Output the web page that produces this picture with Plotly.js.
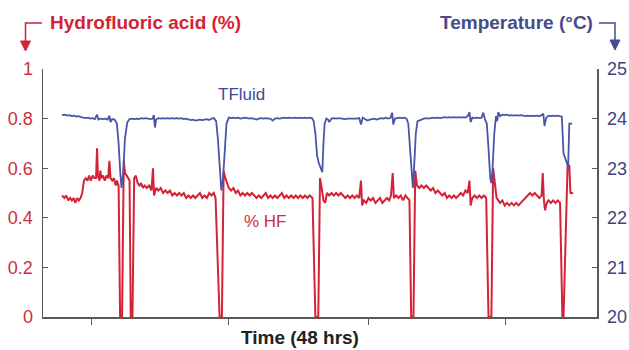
<!DOCTYPE html>
<html>
<head>
<meta charset="utf-8">
<script src="https://cdn.plot.ly/plotly-3.0.1.min.js"></script>
<style>
html,body{margin:0;padding:0;background:#fff;}
#chart{width:629px;height:350px;}
</style>
</head>
<body>
<div id="chart"></div>
<script>
// ---- data (time in hours, HF in %, temperature in °C) ----
const hfSamples = [
 [1.65,0.49],[1.85,0.48],[2.0,0.49],[2.2,0.47],[2.35,0.48],[2.5,0.47],[2.65,0.48],[2.8,0.46],[2.95,0.48],[3.1,0.47],
 [3.25,0.48],[3.4,0.50],[3.55,0.55],[3.7,0.56],[3.85,0.55],[4.0,0.57],[4.15,0.55],[4.3,0.57],[4.45,0.56],[4.6,0.56],
 [4.68,0.68],[4.76,0.57],[4.9,0.55],[4.97,0.59],[5.05,0.56],[5.2,0.57],[5.35,0.55],[5.5,0.57],[5.65,0.56],[5.75,0.63],
 [5.85,0.56],[6.0,0.55],[6.15,0.56],[6.3,0.53],[6.4,0.55],[6.55,0.53],[6.68,0.0],[6.85,0.0],[7.0,0.63],[7.1,0.58],
 [7.25,0.57],[7.4,0.56],[7.5,0.55],[7.6,0.0],[7.75,0.0],[7.9,0.56],[8.05,0.57],[8.2,0.54],[8.35,0.53],[8.5,0.54],
 [8.65,0.52],[8.8,0.53],[9.0,0.52],[9.2,0.53],[9.4,0.51],[9.53,0.60],[9.62,0.49],[9.8,0.52],[10.0,0.51],[10.2,0.52],
 [10.4,0.50],[10.6,0.51],[10.8,0.50],[11.0,0.51],[11.2,0.49],[11.4,0.50],[11.6,0.49],[11.8,0.50],[12.0,0.49],[12.2,0.50],
 [12.4,0.48],[12.6,0.49],[12.8,0.48],[13.0,0.49],[13.2,0.48],[13.4,0.49],[13.6,0.50],[13.8,0.48],[14.0,0.49],[14.2,0.48],
 [14.4,0.50],[14.6,0.49],[14.8,0.50],[14.95,0.48],[15.3,0.0],[15.5,0.0],[15.65,0.59],[15.8,0.56],[15.95,0.54],[16.1,0.52],
 [16.3,0.51],[16.5,0.52],[16.7,0.50],[16.9,0.51],[17.1,0.49],[17.3,0.50],[17.5,0.49],[17.7,0.50],[17.9,0.49],[18.1,0.50],
 [18.3,0.49],[18.5,0.48],[18.7,0.49],[18.9,0.48],[19.1,0.49],[19.3,0.50],[19.5,0.48],[19.7,0.49],[19.9,0.48],[20.1,0.49],
 [20.3,0.48],[20.5,0.49],[20.7,0.50],[20.9,0.48],[21.1,0.49],[21.3,0.48],[21.5,0.49],[21.7,0.48],[21.9,0.49],[22.1,0.48],
 [22.3,0.49],[22.5,0.48],[22.7,0.49],[22.9,0.48],[23.1,0.49],[23.35,0.48],[23.6,0.0],[23.85,0.0],[24.0,0.56],[24.15,0.52],
 [24.3,0.47],[24.45,0.46],[24.6,0.50],[24.8,0.49],[25.0,0.50],[25.2,0.49],[25.4,0.50],[25.6,0.49],[25.8,0.50],[26.0,0.49],
 [26.2,0.48],[26.4,0.49],[26.6,0.48],[26.8,0.49],[27.0,0.48],[27.2,0.49],[27.4,0.48],[27.55,0.55],[27.65,0.45],[27.8,0.47],
 [28.0,0.46],[28.2,0.48],[28.4,0.47],[28.6,0.48],[28.8,0.46],[29.0,0.47],[29.2,0.48],[29.4,0.46],[29.6,0.47],[29.8,0.48],
 [30.0,0.47],[30.15,0.49],[30.3,0.58],[30.4,0.48],[30.6,0.49],[30.8,0.48],[31.0,0.49],[31.2,0.47],[31.4,0.49],[31.6,0.48],
 [31.75,0.47],[31.9,0.0],[32.1,0.0],[32.25,0.59],[32.4,0.53],[32.6,0.52],[32.8,0.53],[33.0,0.52],[33.2,0.53],[33.4,0.52],
 [33.6,0.51],[33.8,0.52],[34.0,0.50],[34.2,0.51],[34.4,0.50],[34.6,0.49],[34.8,0.50],[35.0,0.48],[35.2,0.49],[35.4,0.48],
 [35.6,0.49],[35.8,0.48],[36.0,0.49],[36.2,0.50],[36.4,0.49],[36.6,0.51],[36.8,0.50],[36.95,0.55],[37.05,0.45],[37.2,0.48],
 [37.4,0.49],[37.6,0.48],[37.8,0.49],[38.0,0.48],[38.2,0.49],[38.4,0.48],[38.6,0.0],[38.85,0.0],[39.0,0.60],[39.15,0.53],
 [39.3,0.48],[39.45,0.47],[39.6,0.46],[39.8,0.47],[40.0,0.45],[40.2,0.46],[40.4,0.45],[40.6,0.46],[40.8,0.45],[41.0,0.46],
 [41.2,0.45],[41.4,0.46],[41.6,0.47],[41.8,0.48],[42.0,0.49],[42.2,0.50],[42.4,0.49],[42.6,0.50],[42.8,0.49],[43.0,0.48],
 [43.2,0.49],[43.3,0.58],[43.4,0.47],[43.5,0.43],[43.65,0.46],[43.8,0.47],[44.0,0.46],[44.2,0.47],[44.4,0.46],[44.6,0.47],
 [44.8,0.46],[45.0,0.0],[45.1,0.0],[45.45,0.61],[45.6,0.61],[45.7,0.50],[45.93,0.50]
];
const tempSamples = [
 [1.65,24.07],[1.9,24.08],[2.1,24.06],[2.3,24.07],[2.5,24.05],[2.7,24.06],[2.9,24.04],[3.1,24.05],[3.3,24.03],[3.5,24.02],
 [3.7,24.01],[3.9,24.02],[4.1,24.00],[4.3,24.01],[4.5,23.99],[4.68,24.08],[4.8,23.98],[5.0,24.00],[5.2,23.99],[5.4,24.00],
 [5.6,23.98],[5.75,24.06],[5.85,23.93],[6.0,23.99],[6.2,23.98],[6.4,23.90],[6.55,23.5],[6.7,22.9],[6.8,22.6],[6.95,22.9],
 [7.1,23.6],[7.3,23.92],[7.5,23.99],[7.7,24.0],[7.9,23.99],[8.1,24.0],[8.3,23.99],[8.5,24.01],[8.7,24.0],[8.9,24.01],
 [9.1,24.0],[9.3,23.99],[9.5,24.0],[9.6,24.07],[9.7,23.82],[9.8,23.98],[10.0,24.01],[10.2,24.0],[10.4,24.01],[10.6,24.0],
 [10.8,24.01],[11.0,24.0],[11.2,24.01],[11.4,24.0],[11.6,24.01],[11.8,24.0],[12.0,24.01],[12.2,23.99],[12.4,24.0],[12.6,23.99],
 [12.8,23.97],[13.0,23.98],[13.2,23.96],[13.4,23.97],[13.6,23.98],[13.8,23.97],[14.0,23.98],[14.2,23.99],[14.4,23.97],[14.6,24.0],
 [14.8,24.01],[15.0,23.95],[15.15,23.6],[15.3,23.0],[15.45,22.55],[15.6,22.8],[15.75,23.5],[15.9,23.9],[16.1,24.02],[16.3,24.01],
 [16.5,24.02],[16.7,24.01],[16.9,24.02],[17.1,24.0],[17.3,24.01],[17.5,24.02],[17.7,24.01],[17.9,24.0],[18.1,24.01],[18.3,24.0],
 [18.5,23.98],[18.7,24.0],[18.9,24.01],[19.1,24.0],[19.3,24.01],[19.5,24.0],[19.7,24.0],[19.9,23.96],[20.1,24.0],[20.3,24.01],
 [20.5,24.0],[20.7,24.01],[20.9,24.02],[21.1,24.01],[21.3,24.02],[21.5,24.01],[21.7,24.02],[21.9,24.02],[22.1,24.01],[22.3,24.02],
 [22.5,24.01],[22.7,24.02],[22.9,24.01],[23.1,24.02],[23.3,24.01],[23.45,23.95],[23.6,23.7],[23.75,23.25],[23.9,23.1],[24.05,23.0],
 [24.2,22.92],[24.3,23.5],[24.4,23.9],[24.55,24.0],[24.7,23.98],[24.8,23.93],[25.0,24.0],[25.2,24.01],[25.4,24.0],[25.6,24.01],
 [25.8,24.0],[26.0,24.0],[26.2,23.99],[26.4,24.0],[26.6,24.0],[26.8,23.99],[27.0,24.0],[27.2,24.0],[27.4,24.01],[27.55,23.88],
 [27.7,24.02],[27.9,23.99],[28.1,23.96],[28.3,23.98],[28.5,23.99],[28.7,24.0],[28.9,23.98],[29.1,24.0],[29.3,24.01],[29.5,24.0],
 [29.7,24.02],[29.9,24.0],[30.1,24.01],[30.25,24.12],[30.35,23.88],[30.5,24.0],[30.7,24.01],[30.9,24.02],[31.1,24.01],[31.3,24.02],
 [31.5,24.0],[31.65,23.9],[31.8,23.4],[31.95,22.8],[32.05,22.6],[32.15,23.0],[32.3,23.7],[32.45,23.95],[32.6,23.97],[32.8,23.98],
 [33.0,24.0],[33.2,24.01],[33.4,24.0],[33.6,24.01],[33.8,24.02],[34.0,24.01],[34.2,24.02],[34.4,24.01],[34.6,24.02],[34.8,24.03],
 [35.0,24.02],[35.2,24.03],[35.4,24.02],[35.6,24.03],[35.8,24.02],[36.0,24.03],[36.2,24.02],[36.4,24.03],[36.6,24.02],[36.8,24.05],
 [36.95,24.13],[37.05,23.93],[37.2,24.02],[37.4,24.01],[37.6,24.02],[37.8,24.01],[38.0,24.02],[38.15,24.12],[38.3,23.98],[38.45,23.9],
 [38.6,23.4],[38.75,22.8],[38.85,22.7],[38.95,23.0],[39.1,23.7],[39.25,24.05],[39.35,23.95],[39.45,24.13],[39.6,24.05],[39.8,24.08],
 [40.0,24.07],[40.2,24.08],[40.4,24.06],[40.6,24.07],[40.8,24.06],[41.0,24.07],[41.2,24.06],[41.4,24.07],[41.6,24.06],[41.8,24.05],
 [42.0,24.06],[42.2,24.05],[42.4,24.06],[42.6,24.05],[42.8,24.06],[43.0,24.05],[43.2,24.07],[43.35,24.1],[43.45,23.85],[43.6,24.02],
 [43.8,24.06],[44.0,24.05],[44.2,24.06],[44.4,24.05],[44.6,24.06],[44.8,24.05],[44.95,24.04],[45.1,23.3],[45.35,23.1],[45.5,23.03],
 [45.6,23.9],[45.85,23.9]
];
const hfTicks = [0, 0.2, 0.4, 0.6, 0.8, 1];
const tempTicks = [20, 21, 22, 23, 24, 25];
const timeTicks = [4.2, 16.1, 28.2, 40.1];

const hfTime = hfSamples.map(p => p[0]);
const hfValue = hfSamples.map(p => p[1]);
const tempTime = tempSamples.map(p => p[0]);
const tempValue = tempSamples.map(p => p[1]);

const RED = '#d42236';
const BLUE = '#4a55a6';
const NAVY = '#464b8a';
const AXIS = '#5a5a5a';
const boldFont = '"Liberation Sans", Arial, sans-serif';
const regular = '"Liberation Sans", Arial, sans-serif';

const traces = [
  {x: hfTime, y: hfValue, type: 'scatter', mode: 'lines', yaxis: 'y',
   line: {color: RED, width: 2}, hoverinfo: 'skip'},
  {x: tempTime, y: tempValue, type: 'scatter', mode: 'lines', yaxis: 'y2',
   line: {color: BLUE, width: 1.8}, hoverinfo: 'skip'}
];

// pixel -> paper helpers for decorative arrows outside plot area
const L = 43, R = 597, T = 69, B = 317;
const px = v => (v - L) / (R - L);
const py = v => (B - v) / (B - T);

const layout = {
  width: 629, height: 350,
  margin: {l: L, r: 629 - R, t: T, b: 350 - B, pad: 0},
  paper_bgcolor: '#fff', plot_bgcolor: '#fff',
  showlegend: false,
  xaxis: {
    range: [0, 48], showgrid: false, zeroline: false,
    showline: true, linecolor: AXIS, linewidth: 1.5,
    ticks: 'outside', ticklen: 6, tickwidth: 1.3, tickcolor: AXIS,
    tickvals: timeTicks, showticklabels: false
  },
  yaxis: {
    range: [0, 1], showgrid: false, zeroline: false,
    showline: true, linecolor: AXIS, linewidth: 1.5,
    ticks: 'inside', ticklen: 5, tickwidth: 1.3, tickcolor: AXIS,
    tickvals: hfTicks, ticktext: hfTicks.map(String),
    tickfont: {family: regular, size: 18, color: '#c8303e'},
    ticklabelstandoff: 5
  },
  yaxis2: {
    range: [20, 25], overlaying: 'y', side: 'right', showgrid: false, zeroline: false,
    showline: true, linecolor: AXIS, linewidth: 1.5,
    ticks: 'inside', ticklen: 5, tickwidth: 1.3, tickcolor: AXIS,
    tickvals: tempTicks, ticktext: tempTicks.map(String),
    tickfont: {family: regular, size: 18, color: '#40447e'},
    ticklabelstandoff: 5
  },
  annotations: [
    {xref: 'paper', yref: 'paper', x: px(48), y: py(23), xanchor: 'left', yanchor: 'middle',
     text: '<b>Hydrofluoric acid (%)</b>', showarrow: false,
     font: {family: boldFont, size: 19, color: RED}},
    {xref: 'paper', yref: 'paper', x: px(595), y: py(23), xanchor: 'right', yanchor: 'middle',
     text: '<b>Temperature (°C)</b>', showarrow: false,
     font: {family: boldFont, size: 19, color: NAVY}},
    {xref: 'paper', yref: 'paper', x: px(300), y: py(337), xanchor: 'center', yanchor: 'middle',
     text: '<b>Time (48 hrs)</b>', showarrow: false,
     font: {family: boldFont, size: 19, color: '#222'}},
    {xref: 'paper', yref: 'paper', x: px(241), y: py(94), xanchor: 'center', yanchor: 'middle',
     text: 'TFluid', showarrow: false,
     font: {family: regular, size: 17, color: '#3f4a94'}},
    {xref: 'paper', yref: 'paper', x: px(265), y: py(221), xanchor: 'center', yanchor: 'middle',
     text: '% HF', showarrow: false,
     font: {family: regular, size: 17, color: '#c8303e'}}
  ],
  shapes: [
    {type: 'path', xref: 'paper', yref: 'paper',
     path: `M ${px(42)},${py(23)} L ${px(25.5)},${py(23)} L ${px(25.5)},${py(43)}`,
     line: {color: RED, width: 1.5}},
    {type: 'path', xref: 'paper', yref: 'paper',
     path: `M ${px(20.5)},${py(41)} L ${px(30.5)},${py(41)} L ${px(25.5)},${py(51)} Z`,
     fillcolor: RED, line: {color: RED, width: 1}},
    {type: 'path', xref: 'paper', yref: 'paper',
     path: `M ${px(599)},${py(23)} L ${px(615)},${py(23)} L ${px(615)},${py(42)}`,
     line: {color: NAVY, width: 1.5}},
    {type: 'path', xref: 'paper', yref: 'paper',
     path: `M ${px(610)},${py(40)} L ${px(620)},${py(40)} L ${px(615)},${py(50)} Z`,
     fillcolor: NAVY, line: {color: NAVY, width: 1}}
  ]
};

Plotly.newPlot('chart', traces, layout, {displayModeBar: false, staticPlot: true});
</script>
</body>
</html>
